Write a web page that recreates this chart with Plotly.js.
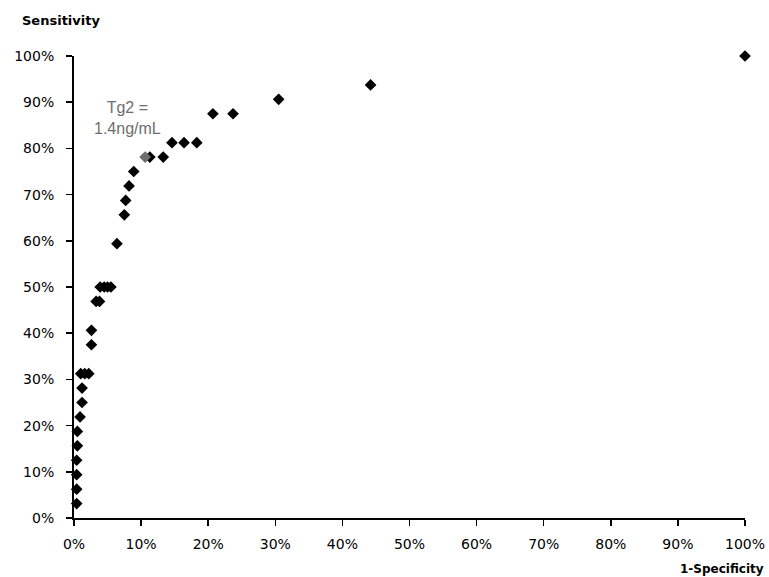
<!DOCTYPE html>
<html>
<head>
<meta charset="utf-8">
<script src="https://cdn.plot.ly/plotly-3.0.1.min.js"></script>
<style>html,body{margin:0;padding:0;background:#fff;}#chart{width:769px;height:577px;}</style>
</head>
<body>
<div id="chart"></div>
<script>
// 1 - Specificity (%) and Sensitivity (%)
const fpr = [0.4, 0.4, 0.4, 0.4, 0.5, 0.5, 0.9, 1.2, 1.2, 1.0, 1.6, 2.2, 2.6, 2.6, 3.3, 3.8, 3.9, 4.5, 5.0, 5.5, 6.4, 7.5, 7.7, 8.2, 8.9, 11.3, 13.3, 14.6, 16.4, 18.3, 20.7, 23.7, 30.5, 44.2, 100];
const tpr = [3.125, 6.25, 9.375, 12.5, 15.625, 18.75, 21.875, 25, 28.125, 31.25, 31.25, 31.25, 37.5, 40.625, 46.875, 46.875, 50, 50, 50, 50, 59.375, 65.625, 68.75, 71.875, 75, 78.125, 78.125, 81.25, 81.25, 81.25, 87.5, 87.5, 90.625, 93.75, 100];
// highlighted cut-off point
const cutFpr = [10.6];
const cutTpr = [78.125];
const cutLabel = "Tg2 =<br>1.4ng/mL";
const xTicks = [0,10,20,30,40,50,60,70,80,90,100];
const yTicks = [0,10,20,30,40,50,60,70,80,90,100];
const xTickText = ["0%","10%","20%","30%","40%","50%","60%","70%","80%","90%","100%"];
const yTickText = ["0%","10%","20%","30%","40%","50%","60%","70%","80%","90%","100%"];

const font = "DejaVu Sans, Verdana, sans-serif";
const traces = [
  {x: fpr, y: tpr, type: 'scatter', mode: 'markers', cliponaxis: false,
   marker: {symbol: 'diamond', size: 9, color: '#000'}},
  {x: cutFpr, y: cutTpr, type: 'scatter', mode: 'markers', cliponaxis: false,
   marker: {symbol: 'diamond', size: 9, color: '#6e6e6e'}}
];
const axisCommon = {
  showgrid: false, zeroline: false, showline: true, linecolor: '#000', linewidth: 2,
  ticks: 'outside', ticklen: 6, tickwidth: 1.5, tickcolor: '#000',
  tickfont: {family: font, size: 14, color: '#000'},
  range: [0, 100], fixedrange: true, tickmode: 'array'
};
const layout = {
  width: 769, height: 577,
  margin: {l: 74, r: 24, t: 56, b: 59},
  paper_bgcolor: '#fff', plot_bgcolor: '#fff',
  showlegend: false,
  xaxis: Object.assign({}, axisCommon, {tickvals: xTicks, ticktext: xTickText, ticklabelstandoff: 6}),
  yaxis: Object.assign({}, axisCommon, {tickvals: yTicks, ticktext: yTickText, ticklabelstandoff: 9}),
  annotations: [
    {text: '<b>Sensitivity</b>', xref: 'paper', yref: 'paper', x: -0.080, y: 1.076,
     xanchor: 'left', yanchor: 'middle', showarrow: false,
     font: {family: font, size: 13, color: '#000'}},
    {text: '<b>1-Specificity</b>', xref: 'paper', yref: 'paper', x: 1.032, y: -0.110,
     xanchor: 'right', yanchor: 'middle', showarrow: false,
     font: {family: font, size: 12, color: '#000'}},
    {text: cutLabel, xref: 'x', yref: 'y', x: 8.0, y: 86.5,
     xanchor: 'center', yanchor: 'middle', showarrow: false, align: 'center',
     font: {family: 'Liberation Sans, Arial, sans-serif', size: 16, color: '#6e6e6e'}}
  ]
};
Plotly.newPlot('chart', traces, layout, {displayModeBar: false, staticPlot: true});
</script>
</body>
</html>
